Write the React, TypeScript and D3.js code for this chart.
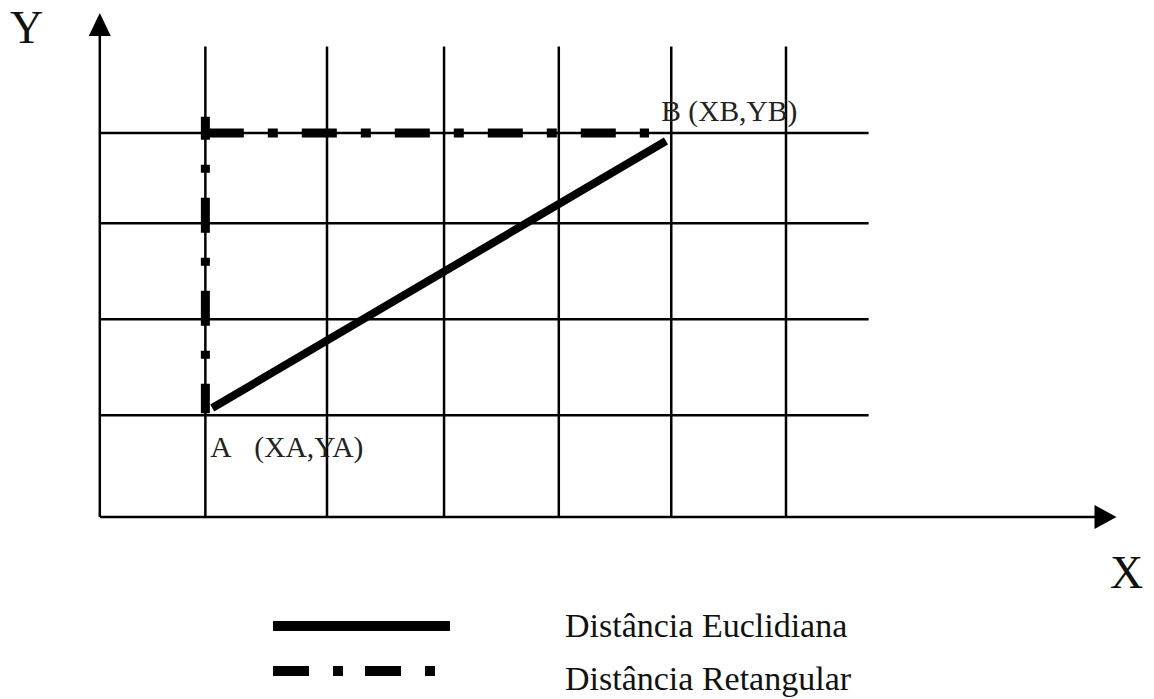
import React from "react";
import * as d3 from "d3";

// ---- data (grid units) ----
const xGridLines = [0.94, 2, 3.02, 4.02, 5, 6];
const yGridLines = [1.06, 2.06, 3.06, 4.0];
const gridTop = 4.9;
const gridRight = 6.72;
const axisOriginX = 0.02;
const xAxisEnd = 8.88;
const yAxisEnd = 5.25;

const pointA = { name: "A", coords: "(XA,YA)", x: 0.94, y: 1.06 };
const pointB = { name: "B", coords: "(XB,YB)", x: 5, y: 4 };

const euclidLine: [number, number][] = [
  [1.0, 1.135],
  [4.954, 3.917],
];
const rectVertical: [number, number][] = [
  [0.94, 4.17],
  [0.94, 1.08],
];
const rectHorizontal: [number, number][] = [
  [0.97, 4.0],
  [4.806, 4.0],
];

const legendItems = [
  { label: "Distância Euclidiana", dashed: false },
  { label: "Distância Retangular", dashed: true },
];

const W = 1154;
const H = 699;
const FONT = "'Liberation Serif', 'Times New Roman', serif";

export default function App() {
  const x = d3.scaleLinear().domain([0, 1]).range([97.5, 97.5 + 114.75]);
  const y = d3.scaleLinear().domain([0, 1]).range([517, 421]);
  const line = d3
    .line<[number, number]>()
    .x((d) => x(d[0]))
    .y((d) => y(d[1]));

  const ax0 = x(axisOriginX);
  const ay0 = y(0);
  const yTip = y(yAxisEnd);
  const xTip = x(xAxisEnd);

  return (
    <svg
      width={W}
      height={H}
      style={{ position: "absolute", left: 0, top: 0, background: "#fff" }}
    >
      <rect width={W} height={H} fill="#fff" />
      {/* grid */}
      {xGridLines.map((g, i) => (
        <line
          key={"vx" + i}
          x1={x(g)}
          x2={x(g)}
          y1={y(gridTop)}
          y2={ay0}
          stroke="#000"
          strokeWidth={2.5}
        />
      ))}
      {yGridLines.map((g, i) => (
        <line
          key={"hy" + i}
          x1={ax0}
          x2={x(gridRight)}
          y1={y(g)}
          y2={y(g)}
          stroke="#000"
          strokeWidth={2.5}
        />
      ))}
      {/* axes */}
      <line x1={ax0} x2={ax0} y1={ay0} y2={yTip + 20} stroke="#000" strokeWidth={2.5} />
      <path
        d={`M${ax0},${yTip} L${ax0 - 11},${yTip + 23} L${ax0 + 11},${yTip + 23} Z`}
        fill="#000"
      />
      <line x1={ax0} x2={xTip - 20} y1={ay0} y2={ay0} stroke="#000" strokeWidth={2.5} />
      <path
        d={`M${xTip},${ay0} L${xTip - 22},${ay0 - 12} L${xTip - 22},${ay0 + 12} Z`}
        fill="#000"
      />
      <text x={10} y={43} fontFamily={FONT} fontSize={46} fill="#111">
        Y
      </text>
      <text x={1110} y={588} fontFamily={FONT} fontSize={46} fill="#111">
        X
      </text>

      {/* rectangular distance */}
      <path
        d={line(rectVertical) || ""}
        stroke="#000"
        strokeWidth={9}
        fill="none"
        strokeDasharray="35 25 8 25"
        strokeDashoffset={12}
      />
      <path
        d={line(rectHorizontal) || ""}
        stroke="#000"
        strokeWidth={9}
        fill="none"
        strokeDasharray="35 24 10 24"
      />
      {/* euclidean distance */}
      <path d={line(euclidLine) || ""} stroke="#000" strokeWidth={8} fill="none" />

      {/* point labels */}
      <text x={x(pointA.x) + 5} y={457} fontFamily={FONT} fontSize={29.5} fill="#222">
        {pointA.name}
      </text>
      <text x={x(pointA.x) + 49} y={457} fontFamily={FONT} fontSize={29.5} fill="#222">
        {pointA.coords}
      </text>
      <text x={x(pointB.x) - 10} y={121} fontFamily={FONT} fontSize={29.5} fill="#222">
        {pointB.name + " " + pointB.coords}
      </text>

      {/* legend */}
      {legendItems.map((it, i) => {
        const ly = 626 + i * 45;
        return (
          <g key={"lg" + i}>
            <line
              x1={273}
              x2={it.dashed ? 435 : 450}
              y1={ly}
              y2={ly}
              stroke="#000"
              strokeWidth={10}
              strokeDasharray={it.dashed ? "36 24 10 22" : undefined}
            />
            <text
              x={565}
              y={637 + i * 53}
              fontFamily={FONT}
              fontSize={34}
              fill="#111"
            >
              {it.label}
            </text>
          </g>
        );
      })}
    </svg>
  );
}
